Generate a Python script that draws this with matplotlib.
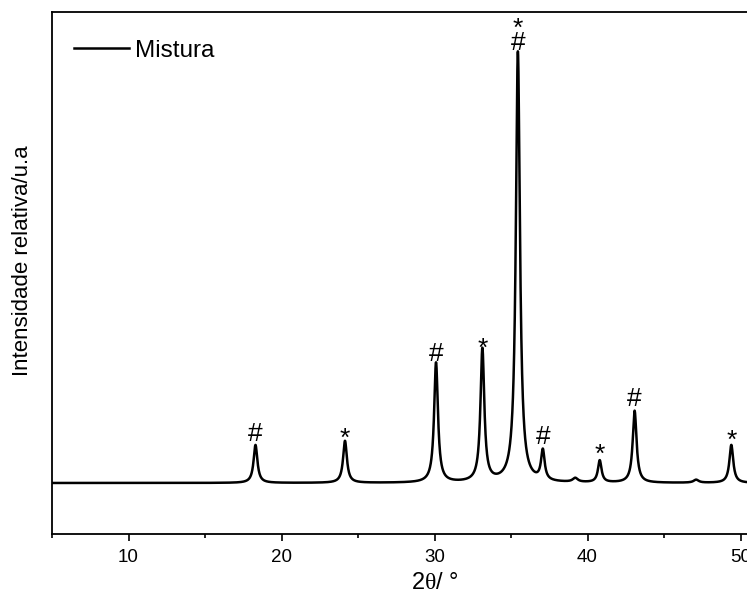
import matplotlib
matplotlib.use("Agg")
import matplotlib.pyplot as plt
from matplotlib.ticker import MultipleLocator
import numpy as np

plt.rcParams["font.family"] = ["Liberation Sans", "DejaVu Sans"]
plt.rcParams["mathtext.fontset"] = "custom"
plt.rcParams["mathtext.rm"] = "Liberation Serif"

# peaks: position (2theta), height (a.u.), FWHM (deg)
PEAK_POS = [18.3, 24.15, 30.1, 33.13, 35.45, 37.08, 39.2, 40.8, 43.08, 47.1, 49.4]
PEAK_HEIGHT = [38, 42, 120, 133, 431, 30, 4, 22, 72, 3, 38]
PEAK_FWHM = [0.30, 0.30, 0.30, 0.30, 0.32, 0.28, 0.4, 0.28, 0.30, 0.4, 0.30]

# phase markers: position, symbol, height of glyph bottom
MARK_POS = [18.3, 24.15, 30.1, 33.13, 37.08, 40.8, 43.08, 49.4]
MARK_SYM = ["#", "*", "#", "*", "#", "*", "#", "*"]
MARK_Y = [42, 48, 122, 138, 39, 32, 77, 46]
MAIN_POS = 35.45
MAIN_Y = 433

two_theta = np.linspace(5, 55, 5000)
y = np.zeros_like(two_theta)
for p, h, w in zip(PEAK_POS, PEAK_HEIGHT, PEAK_FWHM):
    g = w / 2
    y += h / (1 + ((two_theta - p) / g) ** 2)

fig = plt.figure(figsize=(7.47, 5.91), dpi=100)
ax = fig.add_axes([52 / 747, 57 / 591, 750 / 747, 522 / 591])
ax.plot(two_theta, y, color="black", lw=1.8, label="Mistura")

MFS = 19
for xp, s, ym in zip(MARK_POS, MARK_SYM, MARK_Y):
    off = 0 if s == "#" else -11
    ax.text(xp, ym + off, s, ha="center", va="baseline", fontsize=MFS)
# main peak carries both markers
ax.text(MAIN_POS, MAIN_Y, "*\n#", ha="center", va="baseline", fontsize=MFS,
        linespacing=0.5, multialignment="center")

ax.set_xlim(5, 5 + 750 / 15.3)
ax.set_ylim(-51, 471)
ax.xaxis.set_major_locator(MultipleLocator(10))
ax.xaxis.set_minor_locator(MultipleLocator(5))
ax.tick_params(axis="x", which="major", direction="out", length=5, width=1.2,
               labelsize=13.5, pad=6)
ax.tick_params(axis="x", which="minor", direction="out", length=3, width=1.2)
ax.set_yticks([])
for sp in ax.spines.values():
    sp.set_linewidth(1.3)

ax.set_xlabel(r"2$\mathrm{\theta}$/ °", fontsize=17, labelpad=0)
ax.set_ylabel("Intensidade relativa/u.a", fontsize=16)
ax.xaxis.set_label_coords((435 - 52) / 750, -0.072)
ax.yaxis.set_label_coords(-(52 - 33) / 750, (534 - 261) / 522)

ax.legend(loc="upper left", frameon=False, fontsize=17.5, handlelength=2.25,
          handletextpad=0.25, bbox_to_anchor=(0, 1 - 6 / 522))

fig.savefig("out.png", dpi=100, facecolor="white")
